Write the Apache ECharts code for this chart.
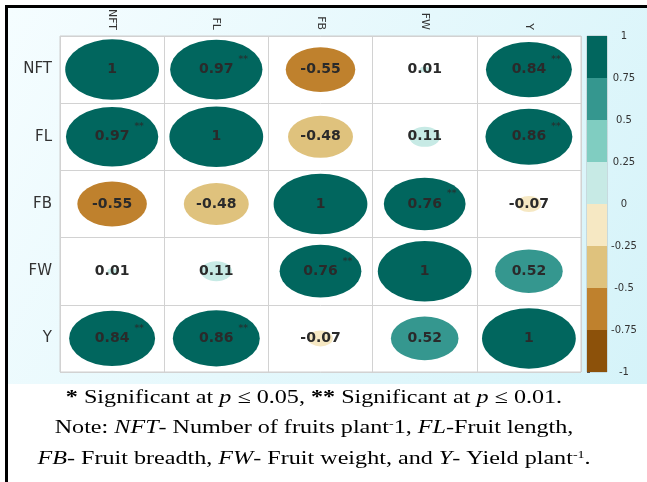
<!DOCTYPE html>
<html><head><meta charset="utf-8">
<script src="https://cdn.jsdelivr.net/npm/echarts@6/dist/echarts.min.js"></script>
<style>html,body{margin:0;padding:0;background:#fff}#c{width:647px;height:482px}</style>
</head><body><div id="c"></div>
<script>
// ---- data ----
const variables = ['NFT', 'FL', 'FB', 'FW', 'Y'];
const corrNFT = [1, 0.97, -0.55, 0.01, 0.84];
const corrFL  = [0.97, 1, -0.48, 0.11, 0.86];
const corrFB  = [-0.55, -0.48, 1, 0.76, -0.07];
const corrFW  = [0.01, 0.11, 0.76, 1, 0.52];
const corrY   = [0.84, 0.86, -0.07, 0.52, 1];
const sigNFT = ['', '**', '', '', '**'];
const sigFL  = ['**', '', '', '', '**'];
const sigFB  = ['', '', '', '**', ''];
const sigFW  = ['', '', '**', '', ''];
const sigY   = ['**', '**', '', '', ''];
const colorBreaks = [-1, -0.75, -0.5, -0.25, 0, 0.25, 0.5, 0.75, 1];
const colorPalette = ['#8C510A', '#BF812D', '#DFC27D', '#F6E8C3', '#C7EAE5', '#80CDC1', '#35978F', '#01665E'];

const corrRows = [corrNFT, corrFL, corrFB, corrFW, corrY];
const sigRows = [sigNFT, sigFL, sigFB, sigFW, sigY];

// ---- layout ----
const GRID = { left: 60, top: 36, width: 521, height: 336 };
const cellW = GRID.width / variables.length;
const cellH = GRID.height / variables.length;

const cells = [];
const stars = [];
corrRows.forEach((row, i) => row.forEach((r, j) => {
  cells.push([variables[j], variables[i], r]);
  if (sigRows[i][j]) stars.push([variables[j], variables[i], sigRows[i][j]]);
}));
const pieces = colorPalette.map((c, k) => (k === 0
  ? { gte: colorBreaks[k], lte: colorBreaks[k + 1], color: c }
  : { gt: colorBreaks[k], lte: colorBreaks[k + 1], color: c }));
const colorbarData = colorPalette.map((c, k) => [0, colorBreaks[k], colorBreaks[k + 1], k]);

const serif = 'Liberation Serif';
const rich = {
  n: { fontFamily: serif, fontSize: 19, fill: '#000' },
  i: { fontFamily: serif, fontSize: 19, fontStyle: 'italic', fill: '#000' },
  s: { fontFamily: serif, fontSize: 11, fill: '#000', verticalAlign: 'top' },
  b: { fontFamily: serif, fontSize: 19, fontWeight: 'bold', fill: '#000' }
};
const captionLines = [
  '{b|*}{n| Significant at }{i|p}{n| ≤ 0.05, }{b|**}{n| Significant at }{i|p}{n| ≤ 0.01.}',
  '{n|Note: }{i|NFT}{n|- Number of fruits plant}{s|-}{n|1, }{i|FL}{n|-Fruit length,}',
  '{i|FB}{n|- Fruit breadth, }{i|FW}{n|- Fruit weight, and }{i|Y}{n|- Yield plant}{s|-1}{n|.}'
];
const captionY = [398, 428, 459];

const chart = echarts.init(document.getElementById('c'), null, { renderer: 'canvas' });
chart.setOption({
  backgroundColor: '#ffffff',
  animation: false,
  graphic: [
    { type: 'rect', z: -10, shape: { x: 8, y: 8, width: 639, height: 376 },
      style: { fill: new echarts.graphic.LinearGradient(0, 0, 1, 1, [
        { offset: 0, color: '#f5fdff' }, { offset: 1, color: '#d5f3f9' }]) } },
    { type: 'rect', z: 20, shape: { x: 5, y: 5, width: 642, height: 3 }, style: { fill: '#000' } },
    { type: 'rect', z: 20, shape: { x: 5, y: 5, width: 3, height: 477 }, style: { fill: '#000' } }
  ].concat(captionLines.map((t, k) => ({
    type: 'text', z: 20, x: 314, y: captionY[k], scaleX: 1.27,
    style: { text: t, rich: rich, fontFamily: serif, fontSize: 19, fill: '#000',
      align: 'center', verticalAlign: 'middle' }
  }))),
  grid: [
    { left: GRID.left, top: GRID.top, width: GRID.width, height: GRID.height,
      show: true, backgroundColor: '#ffffff', borderColor: '#cfcfcf', borderWidth: 1 },
    { left: 587, top: GRID.top, width: 20, height: GRID.height,
      show: true, backgroundColor: 'transparent', borderColor: '#8a8a8a', borderWidth: 0.5 }
  ],
  xAxis: [
    { type: 'category', data: variables, position: 'top', gridIndex: 0,
      axisLine: { show: false }, axisTick: { show: false },
      axisLabel: { rotate: 90, interval: 0, fontFamily: 'DejaVu Sans', fontSize: 11, color: '#333', margin: 6 },
      splitLine: { show: true, interval: 0, lineStyle: { color: '#d2d2d2', width: 1 } } },
    { type: 'value', gridIndex: 1, min: 0, max: 1, show: false }
  ],
  yAxis: [
    { type: 'category', data: variables, inverse: true, gridIndex: 0,
      axisLine: { show: false }, axisTick: { show: false },
      axisLabel: { interval: 0, fontFamily: 'DejaVu Sans', fontSize: 15, color: '#333', margin: 8 },
      splitLine: { show: true, interval: 0, lineStyle: { color: '#d2d2d2', width: 1 } } },
    { type: 'value', gridIndex: 1, min: -1, max: 1, interval: 0.25, position: 'right',
      axisLine: { show: false },
      axisTick: { show: true, length: 3, lineStyle: { color: '#555' } },
      axisLabel: { fontFamily: 'DejaVu Sans', fontSize: 10, color: '#333', margin: 17, align: 'center' },
      splitLine: { show: false } }
  ],
  visualMap: {
    type: 'piecewise', show: false, seriesIndex: 0, dimension: 2, pieces: pieces
  },
  series: [
    { type: 'scatter', xAxisIndex: 0, yAxisIndex: 0, data: cells, symbol: 'circle',
      symbolSize: (v) => [cellW * 0.9 * Math.sqrt(Math.abs(v[2])), cellH * 0.9 * Math.sqrt(Math.abs(v[2]))],
      itemStyle: { opacity: 1 },
      label: { show: true, position: 'inside', formatter: (p) => String(p.value[2]),
        fontFamily: 'DejaVu Sans', fontWeight: 'bold', fontSize: 14, color: '#2a2a2a' },
      emphasis: { disabled: true } },
    { type: 'scatter', xAxisIndex: 0, yAxisIndex: 0, data: stars, symbolSize: 1, silent: true,
      itemStyle: { color: 'rgba(0,0,0,0)' },
      label: { show: true, position: 'inside', offset: [27, -10], formatter: (p) => p.value[2],
        fontFamily: 'DejaVu Sans', fontWeight: 'bold', fontSize: 9, color: '#2a2a2a' } },
    { type: 'custom', xAxisIndex: 1, yAxisIndex: 1, data: colorbarData, silent: true,
      encode: { x: 0, y: [1, 2] },
      renderItem: (params, api) => {
        const cs = params.coordSys;
        const top = api.coord([0, api.value(2)])[1];
        const bot = api.coord([0, api.value(1)])[1];
        return { type: 'rect', shape: { x: cs.x, y: top, width: cs.width, height: bot - top },
          style: { fill: colorPalette[api.value(3)] } };
      } }
  ]
});
</script>
</body></html>
